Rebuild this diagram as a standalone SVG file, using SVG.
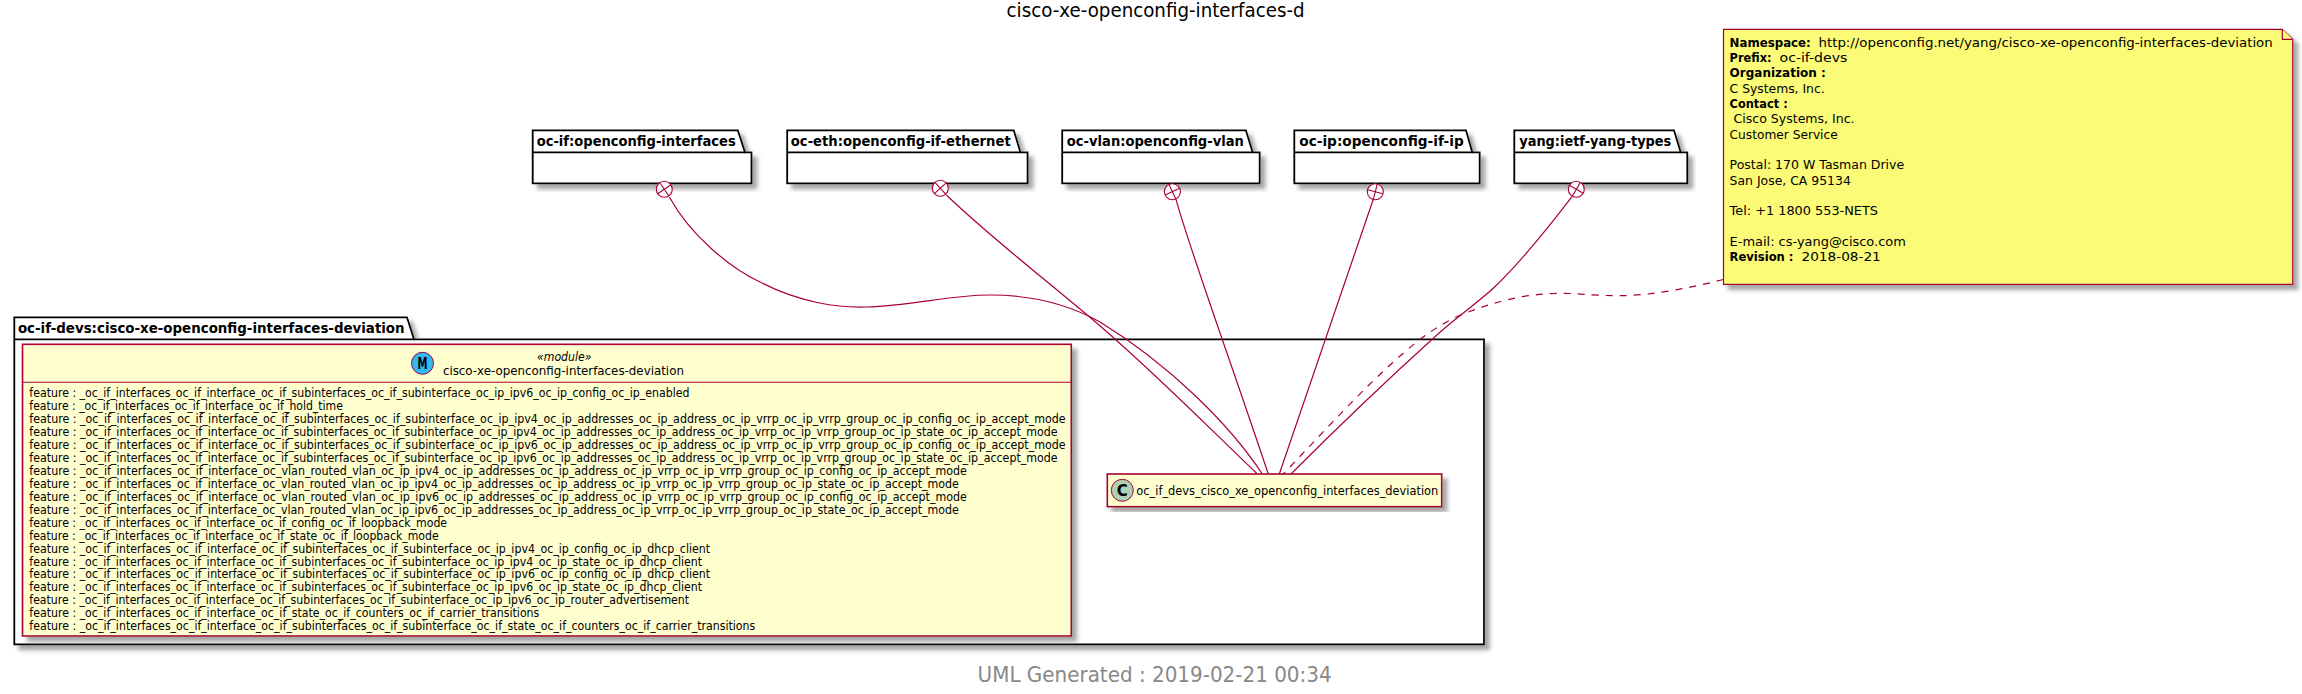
<svg xmlns="http://www.w3.org/2000/svg" width="2302" height="694" viewBox="0 0 2302 694">
<style>
text{font-family:"DejaVu Sans","Liberation Sans",sans-serif;fill:#000}
.pkg{fill:#fff;stroke:#000;stroke-width:1.8}
.pl{font-weight:bold;font-size:14.5px}
.box{fill:#FEFECE;stroke:#A80036;stroke-width:1.6}
.f{font-size:11.4px}
.n{font-size:13px}
.b{font-weight:bold}
.con{fill:none;stroke:#A80036;stroke-width:1.2}
.dash{stroke-dasharray:7,7}
.cir{fill:#fff;stroke:#A80036;stroke-width:1.1}
.sp{stroke:#A80036;stroke-width:1.1}
</style>
<defs>
<filter id="sh" x="-5%" y="-5%" width="110%" height="120%">
<feGaussianBlur in="SourceAlpha" stdDeviation="2"/>
<feOffset dx="4.5" dy="4.5"/>
<feColorMatrix type="matrix" values="0 0 0 0 0.25 0 0 0 0 0.25 0 0 0 0 0.25 0 0 0 0.75 0"/>
<feMerge><feMergeNode/><feMergeNode in="SourceGraphic"/></feMerge>
</filter>
</defs>
<rect width="2302" height="694" fill="#fff"/>
<text id="title" x="1006.6" y="17" font-size="19" textLength="298" lengthAdjust="spacingAndGlyphs">cisco-xe-openconfig-interfaces-d</text>

<g id="pkg-main">
<path class="pkg" filter="url(#sh)" d="M14.3,317.3H407L414,339.3H1484V644.3H14.3Z"/>
<path class="pkg" d="M14.3,339.3H414"/>
<text class="pl" x="17.9" y="332.7" textLength="386.7" lengthAdjust="spacingAndGlyphs">oc-if-devs:cisco-xe-openconfig-interfaces-deviation</text>
</g>

<g id="pkg-oc-if">
<path class="pkg" filter="url(#sh)" d="M532.7,130.3H737.8L745,152.3H751.5V183.3H532.7Z"/>
<path class="pkg" d="M532.7,152.3H745"/>
<text class="pl" x="536.7" y="145.7" textLength="199" lengthAdjust="spacingAndGlyphs">oc-if:openconfig-interfaces</text>
</g>
<g id="pkg-oc-eth">
<path class="pkg" filter="url(#sh)" d="M787.2,130.3H1013.8L1020.4,152.3H1027.6V183.3H787.2Z"/>
<path class="pkg" d="M787.2,152.3H1020.4"/>
<text class="pl" x="790.8" y="145.7" textLength="219.9" lengthAdjust="spacingAndGlyphs">oc-eth:openconfig-if-ethernet</text>
</g>
<g id="pkg-oc-vlan">
<path class="pkg" filter="url(#sh)" d="M1062.2,130.3H1245.9L1252.6,152.3H1259.7V183.3H1062.2Z"/>
<path class="pkg" d="M1062.2,152.3H1252.6"/>
<text class="pl" x="1066.8" y="145.7" textLength="177.1" lengthAdjust="spacingAndGlyphs">oc-vlan:openconfig-vlan</text>
</g>
<g id="pkg-oc-ip">
<path class="pkg" filter="url(#sh)" d="M1294.3,130.3H1466L1472.3,152.3H1479.7V183.3H1294.3Z"/>
<path class="pkg" d="M1294.3,152.3H1472.3"/>
<text class="pl" x="1299.3" y="145.7" textLength="164.4" lengthAdjust="spacingAndGlyphs">oc-ip:openconfig-if-ip</text>
</g>
<g id="pkg-yang">
<path class="pkg" filter="url(#sh)" d="M1514.3,130.3H1674L1680.7,152.3H1687.3V183.3H1514.3Z"/>
<path class="pkg" d="M1514.3,152.3H1680.7"/>
<text class="pl" x="1519.3" y="145.7" textLength="152" lengthAdjust="spacingAndGlyphs">yang:ietf-yang-types</text>
</g>

<g id="module">
<rect class="box" filter="url(#sh)" x="22.5" y="344.3" width="1048.8" height="291.7"/>
<path class="sp" d="M22.5,382.3H1071.3"/>
<ellipse cx="422.5" cy="363.3" rx="11" ry="11" fill="#33B8F0" stroke="#A80036" stroke-width="1"/>
<text x="422.5" y="368.5" font-size="15" font-weight="bold" text-anchor="middle" textLength="10" lengthAdjust="spacingAndGlyphs">M</text>
<text x="537" y="360.5" font-size="12" font-style="italic" textLength="54.5" lengthAdjust="spacingAndGlyphs">«module»</text>
<text x="442.9" y="374.7" font-size="12.8" textLength="241" lengthAdjust="spacingAndGlyphs">cisco-xe-openconfig-interfaces-deviation</text>
<text class="f" x="29.3" y="397" textLength="660.1" lengthAdjust="spacingAndGlyphs">feature : _oc_if_interfaces_oc_if_interface_oc_if_subinterfaces_oc_if_subinterface_oc_ip_ipv6_oc_ip_config_oc_ip_enabled</text>
<text class="f" x="29.3" y="410" textLength="313.6" lengthAdjust="spacingAndGlyphs">feature : _oc_if_interfaces_oc_if_interface_oc_if_hold_time</text>
<text class="f" x="29.3" y="423" textLength="1036.3" lengthAdjust="spacingAndGlyphs">feature : _oc_if_interfaces_oc_if_interface_oc_if_subinterfaces_oc_if_subinterface_oc_ip_ipv4_oc_ip_addresses_oc_ip_address_oc_ip_vrrp_oc_ip_vrrp_group_oc_ip_config_oc_ip_accept_mode</text>
<text class="f" x="29.3" y="436" textLength="1028.3" lengthAdjust="spacingAndGlyphs">feature : _oc_if_interfaces_oc_if_interface_oc_if_subinterfaces_oc_if_subinterface_oc_ip_ipv4_oc_ip_addresses_oc_ip_address_oc_ip_vrrp_oc_ip_vrrp_group_oc_ip_state_oc_ip_accept_mode</text>
<text class="f" x="29.3" y="449" textLength="1036.3" lengthAdjust="spacingAndGlyphs">feature : _oc_if_interfaces_oc_if_interface_oc_if_subinterfaces_oc_if_subinterface_oc_ip_ipv6_oc_ip_addresses_oc_ip_address_oc_ip_vrrp_oc_ip_vrrp_group_oc_ip_config_oc_ip_accept_mode</text>
<text class="f" x="29.3" y="462" textLength="1028.3" lengthAdjust="spacingAndGlyphs">feature : _oc_if_interfaces_oc_if_interface_oc_if_subinterfaces_oc_if_subinterface_oc_ip_ipv6_oc_ip_addresses_oc_ip_address_oc_ip_vrrp_oc_ip_vrrp_group_oc_ip_state_oc_ip_accept_mode</text>
<text class="f" x="29.3" y="475" textLength="937.6" lengthAdjust="spacingAndGlyphs">feature : _oc_if_interfaces_oc_if_interface_oc_vlan_routed_vlan_oc_ip_ipv4_oc_ip_addresses_oc_ip_address_oc_ip_vrrp_oc_ip_vrrp_group_oc_ip_config_oc_ip_accept_mode</text>
<text class="f" x="29.3" y="488" textLength="929.6" lengthAdjust="spacingAndGlyphs">feature : _oc_if_interfaces_oc_if_interface_oc_vlan_routed_vlan_oc_ip_ipv4_oc_ip_addresses_oc_ip_address_oc_ip_vrrp_oc_ip_vrrp_group_oc_ip_state_oc_ip_accept_mode</text>
<text class="f" x="29.3" y="501" textLength="937.6" lengthAdjust="spacingAndGlyphs">feature : _oc_if_interfaces_oc_if_interface_oc_vlan_routed_vlan_oc_ip_ipv6_oc_ip_addresses_oc_ip_address_oc_ip_vrrp_oc_ip_vrrp_group_oc_ip_config_oc_ip_accept_mode</text>
<text class="f" x="29.3" y="514" textLength="929.6" lengthAdjust="spacingAndGlyphs">feature : _oc_if_interfaces_oc_if_interface_oc_vlan_routed_vlan_oc_ip_ipv6_oc_ip_addresses_oc_ip_address_oc_ip_vrrp_oc_ip_vrrp_group_oc_ip_state_oc_ip_accept_mode</text>
<text class="f" x="29.3" y="527" textLength="417.8" lengthAdjust="spacingAndGlyphs">feature : _oc_if_interfaces_oc_if_interface_oc_if_config_oc_if_loopback_mode</text>
<text class="f" x="29.3" y="540" textLength="409.3" lengthAdjust="spacingAndGlyphs">feature : _oc_if_interfaces_oc_if_interface_oc_if_state_oc_if_loopback_mode</text>
<text class="f" x="29.3" y="553" textLength="680.8" lengthAdjust="spacingAndGlyphs">feature : _oc_if_interfaces_oc_if_interface_oc_if_subinterfaces_oc_if_subinterface_oc_ip_ipv4_oc_ip_config_oc_ip_dhcp_client</text>
<text class="f" x="29.3" y="566" textLength="672.8" lengthAdjust="spacingAndGlyphs">feature : _oc_if_interfaces_oc_if_interface_oc_if_subinterfaces_oc_if_subinterface_oc_ip_ipv4_oc_ip_state_oc_ip_dhcp_client</text>
<text class="f" x="29.3" y="578" textLength="680.8" lengthAdjust="spacingAndGlyphs">feature : _oc_if_interfaces_oc_if_interface_oc_if_subinterfaces_oc_if_subinterface_oc_ip_ipv6_oc_ip_config_oc_ip_dhcp_client</text>
<text class="f" x="29.3" y="591" textLength="672.8" lengthAdjust="spacingAndGlyphs">feature : _oc_if_interfaces_oc_if_interface_oc_if_subinterfaces_oc_if_subinterface_oc_ip_ipv6_oc_ip_state_oc_ip_dhcp_client</text>
<text class="f" x="29.3" y="604" textLength="659.7" lengthAdjust="spacingAndGlyphs">feature : _oc_if_interfaces_oc_if_interface_oc_if_subinterfaces_oc_if_subinterface_oc_ip_ipv6_oc_ip_router_advertisement</text>
<text class="f" x="29.3" y="617" textLength="510" lengthAdjust="spacingAndGlyphs">feature : _oc_if_interfaces_oc_if_interface_oc_if_state_oc_if_counters_oc_if_carrier_transitions</text>
<text class="f" x="29.3" y="630" textLength="726" lengthAdjust="spacingAndGlyphs">feature : _oc_if_interfaces_oc_if_interface_oc_if_subinterfaces_oc_if_subinterface_oc_if_state_oc_if_counters_oc_if_carrier_transitions</text>
</g>

<g id="class-deviation">
<rect class="box" filter="url(#sh)" x="1107.3" y="474" width="334.4" height="32.7"/>
<ellipse cx="1122.3" cy="490.3" rx="11" ry="11" fill="#ADD1B2" stroke="#A80036" stroke-width="1"/>
<text x="1122.3" y="495.8" font-size="15" font-weight="bold" text-anchor="middle">C</text>
<text x="1136.3" y="495" font-size="13" textLength="302" lengthAdjust="spacingAndGlyphs">oc_if_devs_cisco_xe_openconfig_interfaces_deviation</text>
</g>

<g id="note">
<path filter="url(#sh)" fill="#FBFB77" stroke="#A80036" stroke-width="1.2" d="M1723.5,29.3H2282.3L2292.7,39.3V284.3H1723.5Z"/>
<path fill="#FBFB77" stroke="#A80036" stroke-width="1.2" d="M2282.3,29.3V39.3H2292.7"/>
<text class="n b" x="1729.6" y="47.3" textLength="81.2" lengthAdjust="spacingAndGlyphs">Namespace:</text>
<text class="n" x="1818.5" y="47.3" textLength="454.2" lengthAdjust="spacingAndGlyphs">http://openconfig.net/yang/cisco-xe-openconfig-interfaces-deviation</text>
<text class="n b" x="1729.6" y="62.3" textLength="41.9" lengthAdjust="spacingAndGlyphs">Prefix:</text>
<text class="n" x="1779.6" y="62.3" textLength="67.7" lengthAdjust="spacingAndGlyphs">oc-if-devs</text>
<text class="n b" x="1729.6" y="77.3" textLength="96.2" lengthAdjust="spacingAndGlyphs">Organization :</text>
<text class="n" x="1729.6" y="93.3" textLength="95" lengthAdjust="spacingAndGlyphs">C Systems, Inc.</text>
<text class="n b" x="1729.6" y="108.3" textLength="58.1" lengthAdjust="spacingAndGlyphs">Contact :</text>
<text class="n" x="1733.5" y="123.3" textLength="121.1" lengthAdjust="spacingAndGlyphs">Cisco Systems, Inc.</text>
<text class="n" x="1729.6" y="139.3" textLength="108.1" lengthAdjust="spacingAndGlyphs">Customer Service</text>
<text class="n" x="1729.6" y="169.3" textLength="174.6" lengthAdjust="spacingAndGlyphs">Postal: 170 W Tasman Drive</text>
<text class="n" x="1729.6" y="185" textLength="121.2" lengthAdjust="spacingAndGlyphs">San Jose, CA 95134</text>
<text class="n" x="1729.6" y="215" textLength="148.4" lengthAdjust="spacingAndGlyphs">Tel: +1 1800 553-NETS</text>
<text class="n" x="1729.6" y="246" textLength="176.2" lengthAdjust="spacingAndGlyphs">E-mail: cs-yang@cisco.com</text>
<text class="n b" x="1729.6" y="261.3" textLength="63.9" lengthAdjust="spacingAndGlyphs">Revision :</text>
<text class="n" x="1801.5" y="261.3" textLength="79.3" lengthAdjust="spacingAndGlyphs">2018-08-21</text>
</g>

<g id="connectors">
<path class="con" d="M669.4,197C690,235 730,268 760,282C800,303 840,308 867,307C910,306 950,295 990,295C1040,295 1075,308 1100,322C1170,365 1230,425 1262.3,474"/>
<path class="con" d="M946.4,195C990,237 1040,275 1092,319C1150,368 1205,424 1256.7,473.3"/>
<path class="con" d="M1176,199.3C1190,250 1225,345 1268.3,474"/>
<path class="con" d="M1373.3,199.3C1355,255 1325,340 1279.3,474"/>
<path class="con" d="M1572,196.7C1545,232 1520,263 1493.3,288.3C1475,305 1450,322 1433.3,338.3C1385,382 1340,425 1291,474"/>
<path class="con dash" d="M1723.3,279.5C1690,288 1650,296 1616.7,295.7C1590,295.5 1575,293 1560,293.3C1520,294 1490,303 1456.7,316.7C1440,325 1430,332 1420,339.3C1375,375 1330,425 1283.3,474"/>
<circle class="cir" cx="664.3" cy="189.3" r="8"/><path class="sp" d="M659.8,182.7L668.8,195.9M657.7,193.8L670.9,184.8"/>
<circle class="cir" cx="940.3" cy="188.3" r="8"/><path class="sp" d="M934.9,182.4L945.7,194.2M934.4,193.7L946.2,182.9"/>
<circle class="cir" cx="1172.4" cy="191.7" r="8"/><path class="sp" d="M1169,184.5L1175.8,198.9M1165.2,195.1L1179.6,188.3"/>
<circle class="cir" cx="1375.3" cy="191.7" r="8"/><path class="sp" d="M1377.3,184L1373.3,199.4M1367.6,189.7L1383,193.7"/>
<circle class="cir" cx="1576.3" cy="189.3" r="8"/><path class="sp" d="M1580.3,182.4L1572.3,196.2M1569.4,185.3L1583.2,193.3"/>
</g>

<text id="footer" x="977.6" y="681.7" font-size="21" style="fill:#888888" textLength="354" lengthAdjust="spacingAndGlyphs">UML Generated : 2019-02-21 00:34</text>
</svg>
